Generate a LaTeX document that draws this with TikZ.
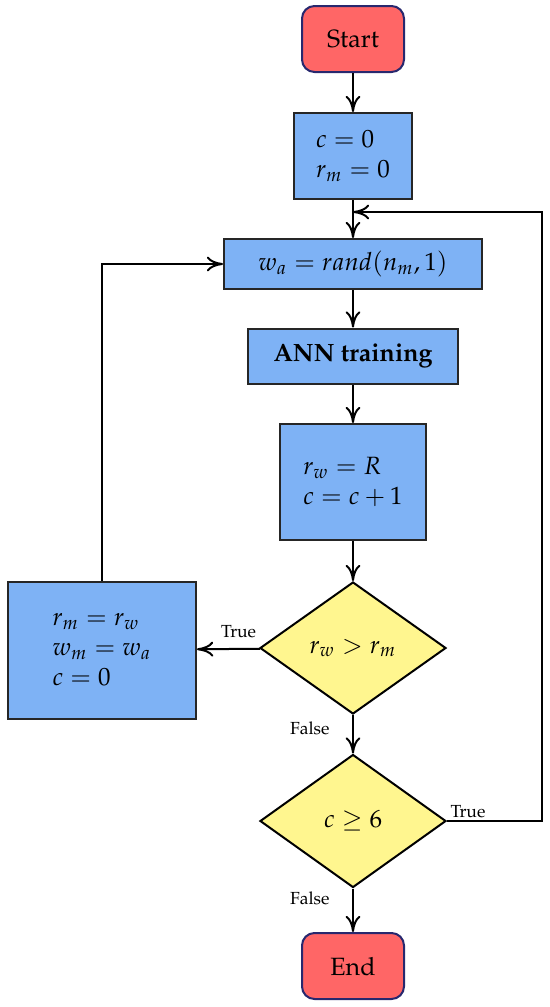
\documentclass[tikz,border=0pt]{standalone}
\usepackage[T1]{fontenc}
\usepackage{mathpazo}
\usetikzlibrary{shapes.geometric,arrows.meta}
\definecolor{termred}{RGB}{255,102,102}
\definecolor{termedge}{RGB}{40,40,110}
\definecolor{procblue}{RGB}{126,178,245}
\definecolor{decyellow}{RGB}{255,246,143}
\begin{document}
\begin{tikzpicture}[x=0.4pt,y=-0.4pt,
  line/.style={draw=black, line width=0.8pt},
  term/.style={rectangle, rounded corners=5pt, draw=termedge, line width=0.8pt, fill=termred, inner sep=0pt, minimum width=40.8pt, minimum height=26.4pt},
  proc/.style={rectangle, draw=black!85, line width=0.8pt, fill=procblue, inner sep=0pt, align=left},
  dec/.style={diamond, draw=black, line width=0.8pt, fill=decyellow, inner sep=0pt},
  lab/.style={font=\scriptsize, inner sep=1pt},
  >={Computer Modern Rightarrow[length=6.5pt,width=6pt]}
]
\useasboundingbox (0,0) rectangle (550,1007);
\node[term] (start) at (353,39) {Start};
\node[proc, minimum width=47.2pt, minimum height=34.4pt] (init) at (353,156) {$c=0$\\$r_m=0$};
\node[proc, minimum width=103.2pt, minimum height=20pt] (rand) at (353,264) {$w_a = rand(n_m,1)$};
\node[proc, minimum width=84pt, minimum height=22pt, font=\bfseries] (ann) at (353,356) {ANN training};
\node[proc, minimum width=58.4pt, minimum height=46.4pt] (eval) at (353,482) {$r_w = R$\\$c = c+1$};
\node[dec, minimum width=74.4pt, minimum height=52.8pt] (d1) at (353,648) {$r_w > r_m$};
\node[proc, minimum width=75.2pt, minimum height=54.8pt] (upd) at (102,650) {$r_m = r_w$\\$w_m = w_a$\\$c = 0$};
\node[dec, minimum width=74.4pt, minimum height=53.2pt] (d2) at (353,821) {$c \geq 6$};
\node[term] (end) at (353,966) {End};
\coordinate (merge) at (353,212);
\coordinate (rc) at (542,821);

\draw[line,->] (start) -- (init);
\draw[line,->] (init) -- (rand);
\draw[line,->] (rand) -- (ann);
\draw[line,->] (ann) -- (eval);
\draw[line,->] (eval) -- (d1);
\draw[line,->] (d1) -- node[lab, above=3pt, pos=0.34]{True} (upd);
\draw[line,->] (upd.north) |- (rand.west);
\draw[line,->] (d1) -- node[lab, left=8pt, pos=0.34]{False} (d2);
\draw[line,->] (d2.east) -- node[lab, above right, pos=0]{True} (rc) |- (merge);
\draw[line,->] (d2) -- node[lab, left=8pt, pos=0.22]{False} (end);
\end{tikzpicture}
\end{document}
